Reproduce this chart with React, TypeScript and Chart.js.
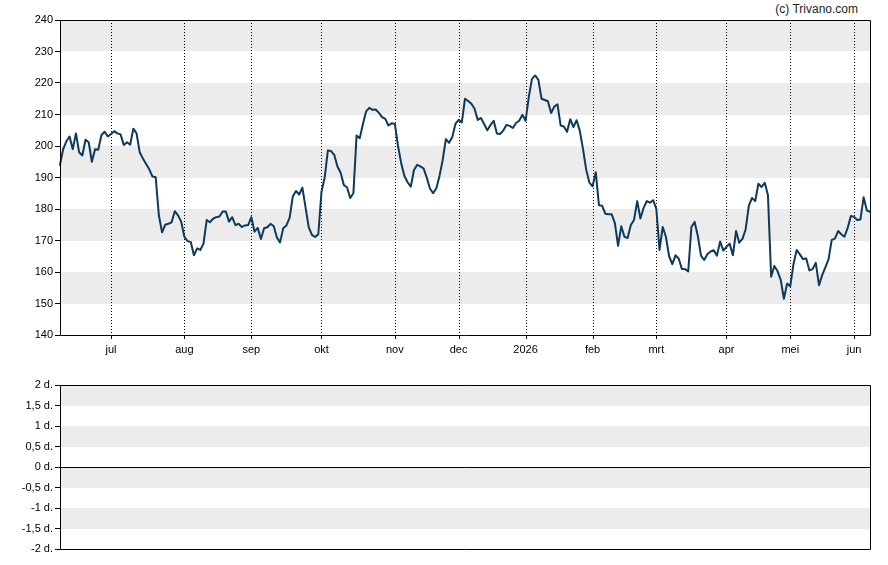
import React, { useEffect, useRef } from 'react';
import { Chart, registerables } from 'chart.js';

Chart.register(...registerables);

// ---- data ----
const START_DATE = '2025-06-09';
const HOLIDAYS = ['2025-12-25', '2025-12-26', '2026-01-01', '2026-04-03', '2026-04-06', '2026-05-01'];
const MONTH_NAMES = ['jan', 'feb', 'mrt', 'apr', 'mei', 'jun', 'jul', 'aug', 'sep', 'okt', 'nov', 'dec'];

const PRICES: number[] = [
  // jun 2025
  194, 199, 201.5, 203, 199, 204, 198, 197, 202, 201.2, 195, 199, 198.8, 203.5, 204.5, 203,
  // jul
  203.8, 204.7, 204, 203.7, 200.3, 201.2, 200.4, 205.5, 204, 198, 196, 194.3, 192.6, 190.3, 190.1, 178, 172.6, 175, 175.3, 175.8, 179.3, 178, 176,
  // aug
  171.2, 169.8, 169.5, 165.3, 167.5, 167, 169, 176.5, 175.8, 176.9, 177.4, 177.6, 179.2, 179.2, 176, 177.4, 174.9, 175.3, 174.3, 174.8, 174.9,
  // sep
  177.4, 172.8, 174, 170.5, 173.9, 174.2, 175.3, 174.6, 171, 169.4, 173.9, 174.8, 177.2, 184, 185.7, 184.6, 186.8, 180.5, 174.2, 171.8, 171.1, 172,
  // okt
  185.5, 190, 198.6, 198.4, 197.2, 193.5, 191.5, 187.6, 186.9, 183.5, 185, 203.3, 202.5, 207, 211, 212.1, 211.5, 211.6, 210.5, 209.2, 208.6, 206.5, 207.2,
  // nov
  207, 200, 194.5, 190.5, 188.5, 187.1, 192.4, 194, 193.5, 192.9, 190, 186.5, 185, 186.5, 190.5, 195.5, 202.2, 201, 202.8, 207,
  // dec
  208.3, 207.5, 215, 214.3, 213.4, 211.8, 208.3, 208.9, 207, 205, 206.7, 208, 204, 203.8, 204.9, 206.7, 206.4, 205.7, 207.3, 208, 209.9,
  // jan 2026
  208, 215.5, 221.3, 222.4, 221, 215, 214.6, 214.2, 210.5, 212.5, 213.2, 206.5, 206.2, 204.5, 208.5, 206, 208.2, 204.8, 199.1, 192.5, 188.4,
  // feb
  187.2, 191.7, 181.2, 181, 178.5, 178.3, 178.3, 175.5, 168.3, 174.5, 171.2, 170.8, 174.9, 176.5, 182.5, 177, 180.3, 182.5, 182, 182.8,
  // mrt
  180, 167, 174.3, 171.2, 165, 162.5, 165.3, 164.3, 161, 160.9, 160.2, 174.3, 175.9, 171.5, 165.2, 163.8, 165.6, 166.5, 166.9, 165.2, 169.7, 166.8,
  // apr
  168, 169, 165.3, 173, 169.3, 170.5, 173.5, 181, 183.5, 182.5, 188, 187, 188.3, 184.4, 158.5, 161.9, 160.3, 157.5, 151.5, 156.3,
  // mei
  155.5, 162.5, 167, 165.6, 164.1, 164.3, 160.5, 160.9, 162.9, 155.8, 159, 161.5, 164, 170.2, 170.6, 173, 172, 171.2, 174, 177.8,
  // jun
  177.5, 176.5, 176.7, 183.7, 179.6, 179.1,
];

const PRICE_MIN = 140;
const PRICE_MAX = 240;
const PRICE_STEP = 10;
const PRICE_BANDS: [number, number][] = [[150, 160], [170, 180], [190, 200], [210, 220], [230, 240]];

const LOWER_MIN = -2;
const LOWER_MAX = 2;
const LOWER_STEP = 0.5;
const LOWER_BANDS: [number, number][] = [[-1.5, -1], [-0.5, 0], [0.5, 1], [1.5, 2]];
const LOWER_UNIT = ' d.';

const COPYRIGHT = '(c) Trivano.com';

// ---- helpers ----
function tradingDays(start: string, count: number, holidays: string[]): string[] {
  const out: string[] = [];
  const d = new Date(start + 'T12:00:00Z');
  while (out.length < count) {
    const dow = d.getUTCDay();
    const iso = d.toISOString().slice(0, 10);
    if (dow !== 0 && dow !== 6 && holidays.indexOf(iso) < 0) out.push(iso);
    d.setUTCDate(d.getUTCDate() + 1);
  }
  return out;
}

const DATES = tradingDays(START_DATE, PRICES.length, HOLIDAYS);
const MONTH_LABELS: string[] = DATES.map((iso, i) => {
  if (i === 0) return '';
  const m = Number(iso.slice(5, 7));
  const pm = Number(DATES[i - 1].slice(5, 7));
  if (m === pm) return '';
  return m === 1 ? iso.slice(0, 4) : MONTH_NAMES[m - 1];
});

const FONT = "'Liberation Sans', Arial, sans-serif";
const BAND_COLOR = '#ececec';
const LINE_COLOR = '#0d3a5c';

function bandsPlugin(bands: [number, number][], withMonths: boolean, zeroLine: boolean) {
  return {
    id: 'bands',
    beforeDraw(chart: any) {
      const { ctx, chartArea } = chart;
      const y = chart.scales.y;
      const x = chart.scales.x;
      ctx.save();
      ctx.fillStyle = BAND_COLOR;
      for (const [a, b] of bands) {
        const y1 = Math.round(y.getPixelForValue(b));
        const y2 = Math.round(y.getPixelForValue(a));
        ctx.fillRect(chartArea.left, y1, chartArea.right - chartArea.left, y2 - y1);
      }
      if (withMonths) {
        ctx.strokeStyle = '#000';
        ctx.lineWidth = 1;
        ctx.setLineDash([1, 2]);
        MONTH_LABELS.forEach((lab, i) => {
          if (!lab) return;
          const px = Math.round(x.getPixelForValue(i)) + 0.5;
          ctx.beginPath();
          ctx.moveTo(px, chartArea.top);
          ctx.lineTo(px, chartArea.bottom);
          ctx.stroke();
        });
        ctx.setLineDash([]);
        MONTH_LABELS.forEach((lab, i) => {
          if (!lab) return;
          const px = Math.round(x.getPixelForValue(i)) + 0.5;
          ctx.beginPath();
          ctx.moveTo(px, chartArea.bottom);
          ctx.lineTo(px, chartArea.bottom + 4);
          ctx.stroke();
        });
      }
      ctx.restore();
    },
    afterDraw(chart: any) {
      const { ctx, chartArea } = chart;
      ctx.save();
      ctx.strokeStyle = '#000';
      ctx.lineWidth = 1;
      const l = Math.round(chartArea.left) + 0.5;
      const t = Math.round(chartArea.top) + 0.5;
      const r = Math.round(chartArea.right) + 0.5;
      const b = Math.round(chartArea.bottom) + 0.5;
      ctx.beginPath();
      ctx.moveTo(l, t);
      ctx.lineTo(r, t);
      ctx.lineTo(r, b);
      ctx.lineTo(l, b);
      ctx.closePath();
      ctx.stroke();
      if (zeroLine) {
        const z = Math.round(chart.scales.y.getPixelForValue(0)) + 0.5;
        ctx.beginPath();
        ctx.moveTo(l, z);
        ctx.lineTo(r, z);
        ctx.stroke();
      }
      ctx.restore();
    },
  };
}

export default function App() {
  const topRef = useRef<HTMLCanvasElement>(null);
  const botRef = useRef<HTMLCanvasElement>(null);

  useEffect(() => {
    Chart.defaults.font.family = FONT;
    Chart.defaults.font.size = 11;
    Chart.defaults.color = '#000';

    const top = new Chart(topRef.current as HTMLCanvasElement, {
      type: 'line',
      data: {
        labels: DATES,
        datasets: [
          {
            data: PRICES,
            borderColor: LINE_COLOR,
            borderWidth: 2,
            borderJoinStyle: 'round',
            borderCapStyle: 'round',
            pointRadius: 0,
            tension: 0,
            fill: false,
          },
        ],
      },
      options: {
        animation: false,
        responsive: false,
        events: [],
        layout: { padding: { top: 20, right: 18, left: 0, bottom: 0 } },
        plugins: { legend: { display: false }, tooltip: { enabled: false } },
        scales: {
          x: {
            type: 'category',
            offset: false,
            grid: { display: false, drawTicks: false },
            border: { display: false },
            ticks: {
              autoSkip: false,
              maxRotation: 0,
              minRotation: 0,
              padding: 8,
              callback: (_v: any, i: number) => MONTH_LABELS[i] || '',
            },
            afterFit: (s: any) => {
              s.height = 30;
            },
          },
          y: {
            min: PRICE_MIN,
            max: PRICE_MAX,
            grid: { drawOnChartArea: false, drawTicks: true, tickLength: 5, tickColor: '#000', color: '#000' },
            border: { display: false },
            ticks: { stepSize: PRICE_STEP, padding: 2, callback: (v: any) => String(v) },
            afterFit: (s: any) => {
              s.width = 60;
            },
          },
        },
      },
      plugins: [bandsPlugin(PRICE_BANDS, true, false)],
    } as any);

    const bot = new Chart(botRef.current as HTMLCanvasElement, {
      type: 'line',
      data: {
        labels: DATES,
        datasets: [{ data: [], borderColor: LINE_COLOR, pointRadius: 0 }],
      },
      options: {
        animation: false,
        responsive: false,
        events: [],
        layout: { padding: { top: 20, right: 18, left: 0, bottom: 16 } },
        plugins: { legend: { display: false }, tooltip: { enabled: false } },
        scales: {
          x: { type: 'category', display: false, offset: false },
          y: {
            min: LOWER_MIN,
            max: LOWER_MAX,
            grid: { drawOnChartArea: false, drawTicks: true, tickLength: 5, tickColor: '#000', color: '#000' },
            border: { display: false },
            ticks: {
              stepSize: LOWER_STEP,
              padding: 2,
              callback: (v: any) => String(v).replace('.', ',') + LOWER_UNIT,
            },
            afterFit: (s: any) => {
              s.width = 60;
            },
          },
        },
      },
      plugins: [bandsPlugin(LOWER_BANDS, false, true)],
    } as any);

    return () => {
      top.destroy();
      bot.destroy();
    };
  }, []);

  return (
    <div style={{ position: 'fixed', left: 0, top: 0, width: 888, height: 565, background: '#fff' }}>
      <div
        style={{
          position: 'absolute',
          left: 0,
          top: 1,
          width: 858,
          textAlign: 'right',
          fontFamily: FONT,
          fontSize: 12,
          color: '#222',
          lineHeight: '16px',
        }}
      >
        {COPYRIGHT}
      </div>
      <canvas ref={topRef} width={888} height={365} style={{ position: 'absolute', left: 0, top: 0, display: 'block' }} />
      <canvas ref={botRef} width={888} height={200} style={{ position: 'absolute', left: 0, top: 365, display: 'block' }} />
    </div>
  );
}
